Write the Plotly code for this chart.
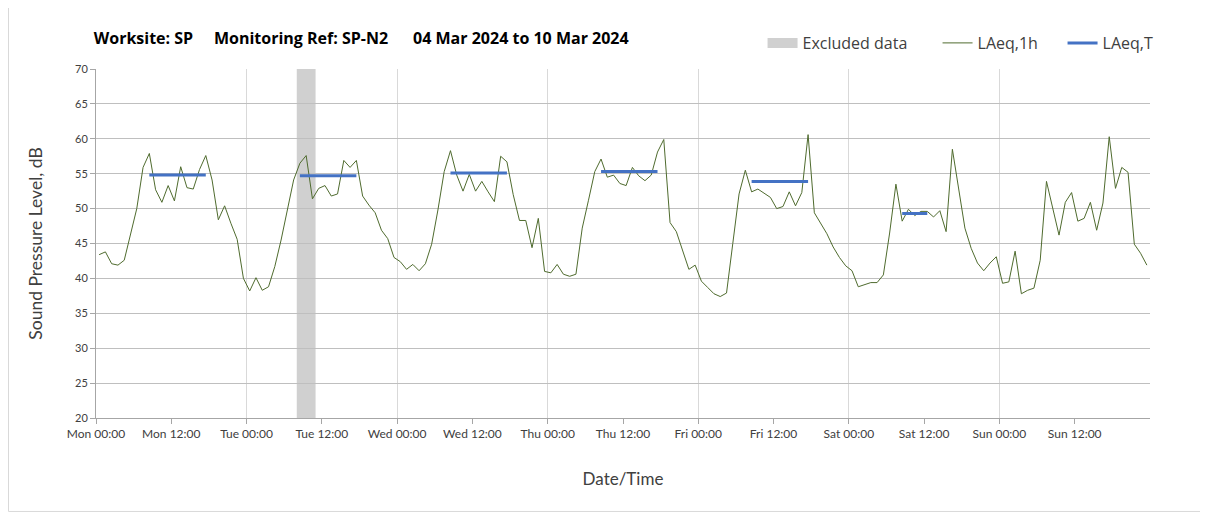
import pandas as pd
import plotly.graph_objects as go

# hourly LAeq,1h values (dB), one list per day, hour 00 .. 23
mon = [43.4, 43.8, 42.1, 41.9, 42.6, 46.2, 50.0, 55.9, 57.9, 52.7, 50.9, 53.3,
       51.1, 56.0, 53.0, 52.8, 55.6, 57.6, 54.1, 48.4, 50.4, 47.9, 45.6, 40.0]
tue = [38.2, 40.1, 38.3, 38.8, 41.7, 45.5, 49.8, 54.1, 56.5, 57.6, 51.4, 52.9,
       53.3, 51.8, 52.1, 56.9, 55.9, 56.9, 51.8, 50.5, 49.4, 46.9, 45.7, 43.0]
wed = [42.4, 41.3, 42.0, 41.1, 42.1, 44.9, 49.8, 55.3, 58.3, 54.8, 52.5, 54.9,
       52.5, 53.9, 52.4, 51.0, 57.5, 56.7, 52.0, 48.3, 48.3, 44.4, 48.6, 41.0]
thu = [40.8, 42.0, 40.6, 40.3, 40.6, 47.2, 51.2, 55.3, 57.1, 54.5, 54.8, 53.6,
       53.3, 55.9, 54.7, 54.0, 54.8, 58.1, 59.9, 48.0, 46.7, 43.9, 41.3, 41.9]
fri = [39.6, 38.7, 37.8, 37.4, 37.9, 45.0, 52.1, 55.5, 52.4, 52.8, 52.2, 51.6,
       50.0, 50.3, 52.4, 50.4, 52.3, 60.6, 49.4, 47.8, 46.4, 44.5, 43.0, 41.8]
sat = [41.1, 38.8, 39.1, 39.4, 39.4, 40.5, 46.5, 53.5, 48.2, 49.9, 49.0, 49.6,
       49.6, 48.8, 49.7, 46.7, 58.5, 52.7, 47.2, 44.3, 42.2, 41.1, 42.2, 43.1]
sun = [39.3, 39.5, 43.9, 37.8, 38.3, 38.6, 42.6, 53.9, 49.8, 46.2, 50.9, 52.3,
       48.2, 48.6, 50.9, 46.9, 50.8, 60.3, 52.9, 55.9, 55.2, 44.9, 43.6, 41.9]

# LAeq,T per day (day index, first hour, last hour, value)
laeqt_day = [0, 1, 2, 3, 4, 5]
laeqt_from = [8, 8, 8, 8, 8, 8]
laeqt_to = [17, 17, 17, 17, 17, 12]
laeqt_val = [54.8, 54.7, 55.1, 55.3, 53.9, 49.3]

# excluded period
excl_start = "2024-03-05 08:00"
excl_end = "2024-03-05 11:00"

tick_labels = ["Mon 00:00", "Mon 12:00", "Tue 00:00", "Tue 12:00", "Wed 00:00",
               "Wed 12:00", "Thu 00:00", "Thu 12:00", "Fri 00:00", "Fri 12:00",
               "Sat 00:00", "Sat 12:00", "Sun 00:00", "Sun 12:00"]

start = pd.Timestamp("2024-03-04 00:00")
levels = mon + tue + wed + thu + fri + sat + sun
times = start + pd.Timedelta(minutes=30) + pd.to_timedelta(range(len(levels)), unit="h")

GREEN = "#4F6B2E"
BLUE = "#4472C4"
FONT = "Lato, 'Open Sans', sans-serif"
WIDE = "'Open Sans', sans-serif"
SP = "\u00a0"

fig = go.Figure()

# legend entry for the grey band
fig.add_trace(go.Scatter(
    x=[None], y=[None], mode="lines", name="Excluded data",
    line=dict(color="#D0D0D0", width=12), legendwidth=130
))

fig.add_trace(go.Scatter(
    x=times, y=levels, mode="lines", name="LAeq,1h",
    line=dict(color=GREEN, width=1), legendwidth=80
))

for k, (d, h0, h1, v) in enumerate(zip(laeqt_day, laeqt_from, laeqt_to, laeqt_val)):
    t0 = start + pd.Timedelta(days=d, hours=h0, minutes=30)
    t1 = start + pd.Timedelta(days=d, hours=h1, minutes=30)
    fig.add_trace(go.Scatter(
        x=[t0, t1], y=[v, v], mode="lines", name="LAeq,T",
        line=dict(color=BLUE, width=3),
        showlegend=(k == 0), legendgroup="laeqt"
    ))

fig.add_shape(
    type="rect", xref="x", yref="y",
    x0=excl_start, x1=excl_end, y0=20, y1=70,
    fillcolor="#D0D0D0", line_width=0, layer="below"
)

# outer chart border (left and bottom)
fig.add_shape(
    type="path", xref="paper", yref="paper",
    path="M -0.0830 1.2 L -0.0830 -0.2678 L 1.2 -0.2678",
    line=dict(color="#D9D9D9", width=1)
)

tickvals = [start + pd.Timedelta(hours=12 * i) for i in range(len(tick_labels))]

fig.update_layout(
    width=1208,
    height=517,
    margin=dict(l=88, r=66, t=61, b=107),
    paper_bgcolor="white",
    plot_bgcolor="white",
    font=dict(family=FONT, color="#404040", size=12),
    title=dict(
        text="<b>Worksite: SP" + SP * 5 + "Monitoring Ref: SP-N2" + SP * 6
             + "04 Mar 2024 to 10 Mar 2024</b>",
        font=dict(family=WIDE, size=16, color="black"),
        xref="container", x=0.071, xanchor="left",
        yref="container", y=0.942, yanchor="middle"
    ),
    legend=dict(
        orientation="h", x=0.6324, xanchor="left", y=1.0745, yanchor="middle",
        font=dict(family=WIDE, size=16, color="#404040"), bgcolor="rgba(0,0,0,0)",
        itemwidth=30, traceorder="normal"
    ),
    xaxis=dict(
        type="date",
        range=[start, start + pd.Timedelta(days=7)],
        tickvals=tickvals, ticktext=tick_labels,
        ticks="outside", ticklen=5, tickcolor="#A6A6A6",
        showline=True, linecolor="#A6A6A6", linewidth=1,
        showgrid=False, zeroline=False,
        minor=dict(dtick=86400000, tick0=start, showgrid=True,
                   gridcolor="#D9D9D9", gridwidth=1, ticklen=0),
        tickfont=dict(size=12, color="#404040"),
        title=dict(text="Date/Time", font=dict(size=17, color="#404040"), standoff=32)
    ),
    yaxis=dict(
        range=[20, 70], dtick=5,
        ticks="outside", ticklen=5, tickcolor="#A6A6A6",
        showline=True, linecolor="#A6A6A6", linewidth=1,
        showgrid=True, gridcolor="#BFBFBF", gridwidth=1, zeroline=False,
        tickfont=dict(size=11, color="#404040"),
        title=dict(text="Sound Pressure Level, dB", font=dict(size=17.5, color="#404040"),
                   standoff=27)
    )
)

fig.write_html("out.html")
